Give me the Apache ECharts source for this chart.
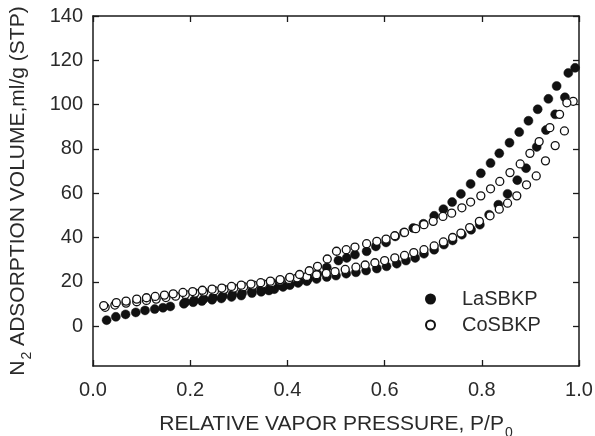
<!DOCTYPE html>
<html>
<head>
<meta charset="utf-8">
<script src="https://cdn.jsdelivr.net/npm/echarts@6/dist/echarts.min.js"></script>
<style>html,body{margin:0;padding:0;background:#fff}#c{width:595px;height:436px}</style>
</head>
<body>
<div id="c"></div>
<script>
// LaSBKP adsorption (lower) branch
const laAdsP = [0.028,0.047,0.067,0.088,0.107,0.127,0.144,0.159,0.187,0.206,0.224,0.245,0.264,0.285,0.305,0.327,0.346,0.362,0.373,0.391,0.405,0.422,0.440,0.460,0.481,0.500,0.521,0.541,0.562,0.584,0.604,0.625,0.644,0.663,0.681,0.702,0.722,0.740,0.759,0.778,0.796,0.815,0.834,0.853,0.873,0.891,0.913,0.932,0.951,0.971,0.992];
const laAdsV = [2.7,4.2,5.3,6.2,7.1,7.7,8.3,8.9,10.1,10.8,11.3,11.9,12.5,13.2,13.8,14.9,15.5,16.1,16.7,17.7,18.5,19.5,20.3,21.3,22.2,22.8,23.7,24.3,25.1,26.0,27.0,28.2,29.6,30.8,32.7,34.5,36.8,38.7,41.3,43.5,45.8,50.3,54.8,59.7,65.9,71.3,80.9,88.5,95.6,103.3,116.6];
// LaSBKP desorption (upper) branch
const laDesP = [0.978,0.954,0.937,0.915,0.896,0.877,0.857,0.836,0.818,0.798,0.777,0.757,0.739,0.721,0.702,0.680,0.659,0.640,0.622,0.603,0.582,0.563,0.539,0.522,0.505,0.481,0.462,0.443,0.424,0.404,0.385,0.366,0.346,0.327,0.307,0.287,0.267,0.247,0.228,0.208,0.190];
const laDesV = [114.3,108.4,102.6,97.9,92.7,87.6,82.8,78.0,73.6,69.0,64.2,59.7,56.0,52.8,49.8,46.2,44.3,42.3,40.5,37.8,36.0,33.8,32.3,30.8,29.6,26.5,23.5,21.5,20.3,19.3,18.6,17.6,16.6,15.8,15.0,14.3,13.6,12.9,12.3,11.6,10.9];
// CoSBKP adsorption (lower) branch
const coAdsP = [0.025,0.045,0.068,0.090,0.110,0.130,0.150,0.170,0.190,0.210,0.228,0.250,0.270,0.290,0.310,0.330,0.350,0.368,0.385,0.403,0.420,0.440,0.460,0.480,0.498,0.519,0.541,0.560,0.580,0.600,0.621,0.641,0.660,0.681,0.702,0.721,0.740,0.757,0.775,0.795,0.817,0.836,0.853,0.872,0.892,0.912,0.931,0.951,0.970,0.988];
const coAdsV = [8.5,9.5,10.4,11.0,11.6,12.2,12.9,13.5,14.3,14.9,15.4,16.0,16.6,17.2,17.8,18.5,19.1,19.7,20.4,21.1,21.8,22.4,23.2,23.8,24.6,25.6,26.6,27.6,28.6,29.6,30.8,31.9,33.2,34.5,36.2,38.0,40.0,42.0,44.5,47.3,49.8,52.8,55.5,58.8,63.8,67.8,74.6,81.5,88.1,101.5];
// CoSBKP desorption (upper) branch
const coDesP = [0.975,0.960,0.940,0.918,0.899,0.879,0.858,0.837,0.818,0.798,0.777,0.759,0.738,0.720,0.700,0.681,0.664,0.641,0.621,0.603,0.584,0.563,0.539,0.521,0.501,0.482,0.462,0.445,0.425,0.405,0.385,0.365,0.345,0.325,0.305,0.285,0.265,0.245,0.225,0.205,0.185,0.165,0.147,0.128,0.110,0.090,0.068,0.048,0.022];
const coDesV = [100.8,95.6,89.6,83.3,78.0,73.2,69.3,65.3,62.0,58.8,56.0,53.4,51.0,49.5,47.3,45.8,44.0,42.3,40.8,39.3,38.3,37.2,35.7,34.5,33.8,30.3,27.0,25.0,23.3,22.0,21.0,20.3,19.6,19.0,18.5,17.9,17.2,16.7,16.2,15.6,15.2,14.6,14.0,13.4,12.8,12.2,11.3,10.6,9.3];

const xTicks = [0, 0.2, 0.4, 0.6, 0.8, 1.0];
const yTicks = [0, 20, 40, 60, 80, 100, 120, 140];
const seriesNames = ['LaSBKP', 'CoSBKP'];

function pairs(p, v) { return p.map((x, i) => [x, v[i]]); }
const laData = pairs(laAdsP, laAdsV).concat(pairs(laDesP, laDesV));
const coData = pairs(coAdsP, coAdsV).concat(pairs(coDesP, coDesV));

const FONT = '"Liberation Sans", Arial, sans-serif';
const axisColor = '#1a1a1a';
const textColor = '#2a2a2a';

const titleRich = {
  m: {fontFamily: FONT, fontSize: 21, color: textColor, lineHeight: 26, verticalAlign: 'top'},
  s: {fontFamily: FONT, fontSize: 14, color: textColor, lineHeight: 14, verticalAlign: 'top', padding: [12, 0, 0, 1]}
};

const chart = echarts.init(document.getElementById('c'), null, {renderer: 'canvas'});
const tickStyle = {show: true, inside: true, length: 6, lineStyle: {color: axisColor, width: 1.3}};
chart.setOption({
  animation: false,
  backgroundColor: '#fff',
  grid: {left: 93, right: 16, top: 16, bottom: 70, containLabel: false, outerBoundsMode: 'none'},
  legend: {
    orient: 'vertical', left: 420, top: 284, itemGap: 6,
    itemWidth: 9, itemHeight: 9,
    data: seriesNames,
    textStyle: {fontFamily: FONT, fontSize: 20, color: textColor, padding: [0, 0, 0, 22]}
  },
  xAxis: [{
    type: 'value', min: 0, max: 1, interval: 0.2, position: 'bottom',
    axisLine: {show: true, onZero: false, lineStyle: {color: axisColor, width: 1.5}},
    axisTick: tickStyle,
    splitLine: {show: false},
    axisLabel: {fontFamily: FONT, fontSize: 20, color: textColor, margin: 14, formatter: v => v.toFixed(1)},
    name: '{m|RELATIVE VAPOR PRESSURE, P/P}{s|0}',
    nameLocation: 'middle', nameGap: 48,
    nameTextStyle: {rich: titleRich}
  }, {
    type: 'value', min: 0, max: 1, interval: 0.2, position: 'top',
    axisLine: {show: true, onZero: false, lineStyle: {color: axisColor, width: 1.5}},
    axisTick: tickStyle, axisLabel: {show: false}, splitLine: {show: false}
  }],
  yAxis: [{
    type: 'value', min: -18, max: 140, position: 'left',
    axisLine: {show: true, onZero: false, lineStyle: {color: axisColor, width: 1.5}},
    axisTick: Object.assign({customValues: yTicks}, tickStyle),
    splitLine: {show: false},
    axisLabel: {fontFamily: FONT, fontSize: 20, color: textColor, margin: 10, customValues: yTicks},
    name: '{m|N}{s|2}{m| ADSORPTION VOLUME,ml/g (STP)}',
    nameLocation: 'middle', nameGap: 59,
    nameTextStyle: {rich: titleRich}
  }, {
    type: 'value', min: -18, max: 140, position: 'right',
    axisLine: {show: true, onZero: false, lineStyle: {color: axisColor, width: 1.5}},
    axisTick: Object.assign({customValues: yTicks}, tickStyle),
    axisLabel: {show: false}, splitLine: {show: false}
  }],
  series: [{
    name: seriesNames[0], type: 'scatter', xAxisIndex: 0, yAxisIndex: 0,
    symbol: 'circle', symbolSize: 9,
    itemStyle: {color: '#111', borderColor: '#111', borderWidth: 0.5, opacity: 1},
    data: laData
  }, {
    name: seriesNames[1], type: 'scatter', xAxisIndex: 0, yAxisIndex: 0,
    symbol: 'circle', symbolSize: 8,
    itemStyle: {color: '#fff', borderColor: '#111', borderWidth: 1.3, opacity: 1},
    data: coData
  }]
});
</script>
</body>
</html>
